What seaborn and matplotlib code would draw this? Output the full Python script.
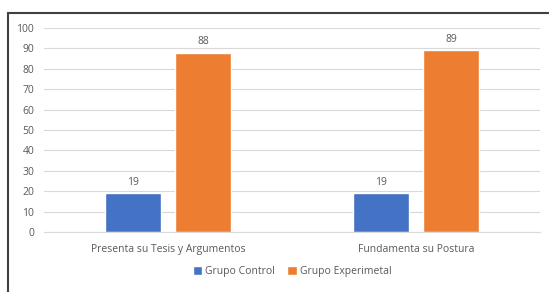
import numpy as np
import pandas as pd
import matplotlib.pyplot as plt
import seaborn as sns
from matplotlib.lines import Line2D

# datos del gráfico
categorias = ["Presenta su Tesis y Argumentos", "Fundamenta su Postura"]
grupo_control = [19, 19]
grupo_experimental = [88, 89]
series = ["Grupo Control", "Grupo Experimetal"]
colores = ["#4472C4", "#ED7D31"]

df = pd.DataFrame({
    "categoria": categorias * 2,
    "grupo": [series[0]] * 2 + [series[1]] * 2,
    "valor": grupo_control + grupo_experimental,
})

sns.set_style("white")
plt.rcParams["font.family"] = ["Open Sans", "DejaVu Sans"]
gris = "#595959"

fig = plt.figure(figsize=(5.49, 2.92), dpi=100)
ax = fig.add_axes([0.080, 0.2055, 0.904, 0.6985])

sns.barplot(
    data=df, x="categoria", y="valor", hue="grupo",
    palette=colores, width=0.565, gap=0.2, ax=ax, legend=True,
    saturation=1,
)

# etiquetas de valor
for cont in ax.containers:
    ax.bar_label(cont, fmt="%d", padding=4, fontsize=7.5, color=gris)

ax.set_ylim(0, 100)
ax.set_yticks(np.arange(0, 101, 10))
ax.set_xlim(-0.5, 1.5)
ax.yaxis.grid(True, color="#D9D9D9", lw=0.8)
ax.set_axisbelow(True)
for s in ["top", "right", "left"]:
    ax.spines[s].set_visible(False)
ax.spines["bottom"].set_color("#D9D9D9")
ax.tick_params(axis="both", length=0, labelsize=7.5, colors=gris)
ax.tick_params(axis="x", pad=9)
ax.tick_params(axis="y", pad=7)
ax.set_xlabel("")
ax.set_ylabel("")

ax.legend(
    loc="center", bbox_to_anchor=(0.5, -0.195),
    ncol=2, frameon=False, fontsize=7.5, labelcolor=gris,
    handlelength=0.9, handleheight=0.9, handletextpad=0.3, columnspacing=1.2,
)

# marco exterior
fig.add_artist(Line2D([8 / 549, 8 / 549], [1 - 13 / 292, 0], color="#404040", lw=1.5))
fig.add_artist(Line2D([8 / 549, 1], [1 - 13 / 292, 1 - 13 / 292], color="#404040", lw=1.5))

fig.savefig("out.png", dpi=100)
